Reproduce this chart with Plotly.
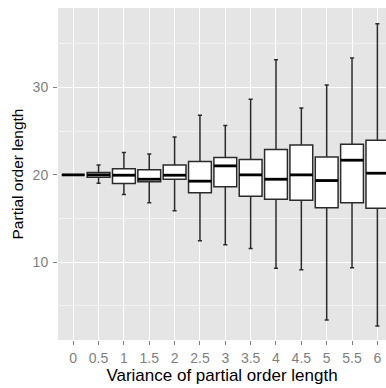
import plotly.graph_objects as go

categories = ["0", "0.5", "1", "1.5", "2", "2.5", "3", "3.5", "4", "4.5", "5", "5.5", "6"]
lower_whisker = [20.0, 19.05, 17.75, 16.8, 15.89, 12.46, 12.0, 11.58, 9.31, 9.14, 3.39, 9.37, 2.71]
q1_values = [20.0, 19.74, 19.0, 19.2, 19.5, 17.94, 18.63, 17.56, 17.2, 17.1, 16.23, 16.8, 16.19]
median_values = [20.0, 20.0, 19.96, 19.5, 19.96, 19.28, 21.03, 20.0, 19.5, 20.0, 19.35, 21.68, 20.19]
q3_values = [20.0, 20.26, 20.69, 20.6, 21.14, 21.52, 21.98, 21.75, 22.9, 23.43, 22.06, 23.5, 23.97]
upper_whisker = [20.0, 21.14, 22.55, 22.4, 24.34, 26.82, 25.64, 28.65, 33.18, 27.66, 30.29, 33.37, 37.29]
y_ticks = [10, 20, 30]
y_minor = [5, 15, 25, 35]

BOX_WIDTH = 0.9
positions = list(range(len(categories)))

fig = go.Figure()
fig.add_trace(go.Box(
    x=positions,
    q1=q1_values,
    median=median_values,
    q3=q3_values,
    lowerfence=lower_whisker,
    upperfence=upper_whisker,
    width=BOX_WIDTH,
    whiskerwidth=0.18,
    fillcolor="white",
    line=dict(color="#2b2b2b", width=1.5),
    boxpoints=False,
    hoverinfo="skip",
    showlegend=False,
))

# thick median bars (ggplot style)
mx, my = [], []
for p, m in zip(positions, median_values):
    mx += [p - BOX_WIDTH / 2, p + BOX_WIDTH / 2, None]
    my += [m, m, None]
fig.add_trace(go.Scatter(
    x=mx, y=my, mode="lines",
    line=dict(color="black", width=2.8),
    hoverinfo="skip", showlegend=False,
))

font = "Liberation Sans, Arial, Helvetica, sans-serif"
fig.update_layout(
    width=386, height=388,
    margin=dict(l=58, r=0, t=8, b=48),
    paper_bgcolor="white",
    plot_bgcolor="#E5E5E5",
    font=dict(family=font, color="black"),
    xaxis=dict(
        range=[-0.6, 12.34],
        automargin=False,
        tickvals=positions,
        ticktext=categories,
        showgrid=True, gridcolor="white", gridwidth=1.2,
        zeroline=False, showline=False,
        ticks="outside", ticklen=4, tickcolor="#7F7F7F", tickwidth=1,
        tickfont=dict(size=14, color="#7F7F7F", family=font),
        ticklabelstandoff=1,
        title=dict(text="Variance of partial order length",
                   font=dict(size=17, color="black", family=font),
                   standoff=1),
    ),
    yaxis=dict(
        range=[1.1, 39.1],
        automargin=False,
        tickvals=y_ticks,
        showgrid=True, gridcolor="white", gridwidth=1.2,
        zeroline=False, showline=False,
        ticks="outside", ticklen=4, tickcolor="#7F7F7F", tickwidth=1,
        tickfont=dict(size=14, color="#7F7F7F", family=font),
        ticklabelstandoff=2,
        minor=dict(tickvals=y_minor, showgrid=True, gridcolor="#F2F2F2",
                   gridwidth=0.6, ticks=""),
        title=dict(text="Partial order length",
                   font=dict(size=15.5, color="black", family=font),
                   standoff=5),
    ),
)

fig.write_html(
    "out.html",
    config={"displayModeBar": False},
    post_script="document.body.style.margin='0';document.body.style.padding='0';",
)
